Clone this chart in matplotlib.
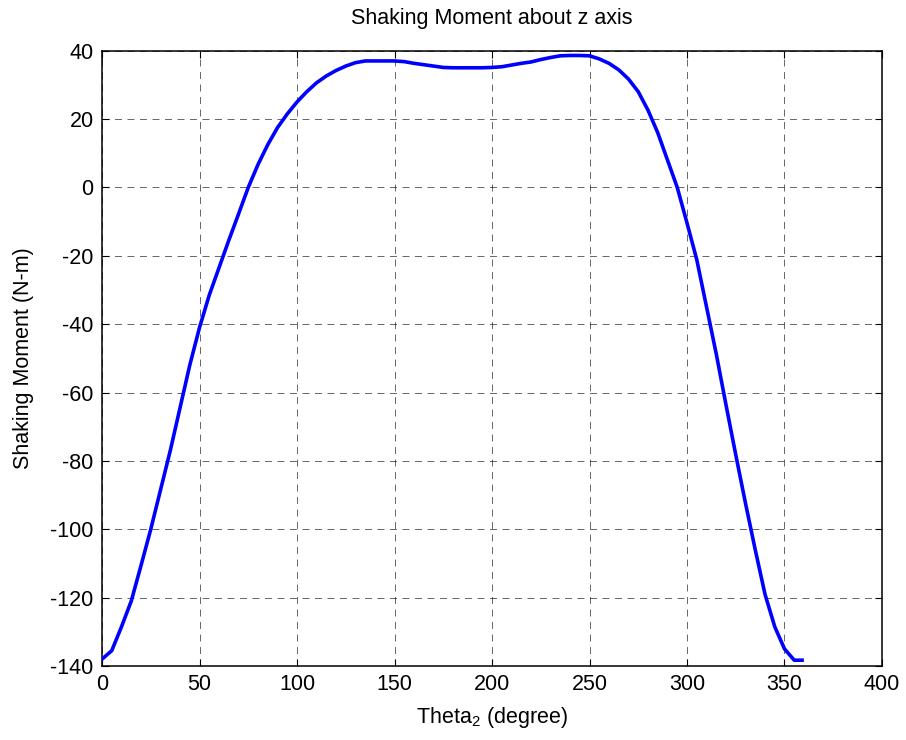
import numpy as np
import matplotlib.pyplot as plt

plt.rcParams['font.family'] = ['Liberation Sans', 'DejaVu Sans']
plt.rcParams['mathtext.fontset'] = 'custom'
plt.rcParams['mathtext.rm'] = 'Liberation Sans'
plt.rcParams['mathtext.it'] = 'Liberation Sans'
plt.rcParams['mathtext.default'] = 'regular'
plt.rcParams['axes.unicode_minus'] = False
plt.rcParams['lines.scale_dashes'] = False

# crank angle (deg) and shaking moment about z (N-m)
theta2 = [0, 5, 10, 15, 20, 25, 30, 35, 40, 45, 50, 55, 60, 65, 70, 75,
          80, 85, 90, 95, 100, 105, 110, 115, 120, 125, 130, 135, 140, 145,
          150, 155, 160, 165, 170, 175, 180, 185, 190, 195, 200, 205, 210,
          215, 220, 225, 230, 235, 240, 245, 250, 255, 260, 265, 270, 275,
          280, 285, 290, 295, 300, 305, 310, 315, 320, 325, 330, 335, 340,
          345, 350, 355, 359]
moment = [-138, -135.5, -128.5, -121, -110.6, -100, -88.5, -77, -64.5, -52,
          -41, -31.5, -23.5, -15.5, -7.8, 0, 6.7, 12.5, 17.5, 21.5, 25, 28,
          30.6, 32.6, 34.2, 35.5, 36.5, 37, 37, 37, 37, 36.8, 36.3, 35.9,
          35.5, 35.1, 35, 35, 35, 35, 35.1, 35.3, 35.8, 36.3, 36.7, 37.4, 38,
          38.5, 38.6, 38.6, 38.5, 37.6, 36.3, 34.4, 31.7, 28, 22.6, 16, 8, 0,
          -10.4, -21.1, -34.9, -48.7, -63.6, -78.2, -92.4, -106, -119, -128.5,
          -135, -138.3, -138.3]

xticks = [0, 50, 100, 150, 200, 250, 300, 350, 400]
yticks = [40, 20, 0, -20, -40, -60, -80, -100, -120, -140]

fig = plt.figure(figsize=(9.06, 7.40), dpi=100)
ax = fig.add_axes([0.1126, 0.1, 0.8609, 0.8315])

ax.plot(theta2, moment, color=(0, 0, 1), lw=2.6, zorder=3)

ax.set_xlim(0, 400)
ax.set_ylim(-140, 40)
ax.set_xticks(xticks)
ax.set_yticks(yticks)
ax.grid(True, color='black', linestyle=(0, (5, 4)), linewidth=0.7, alpha=0.6)
ax.tick_params(direction='in', length=5, width=0.8, labelsize=15.5,
               top=True, right=True, pad=6)
for s in ax.spines.values():
    s.set_linewidth(1.1)

ax.set_title('Shaking Moment about z axis', fontsize=15.5, pad=19)
ax.set_xlabel('Theta$_2$ (degree)', fontsize=15.5, labelpad=7)
ax.set_ylabel('Shaking Moment (N-m)', fontsize=15.5, labelpad=12)

fig.savefig('out.png', dpi=100)
